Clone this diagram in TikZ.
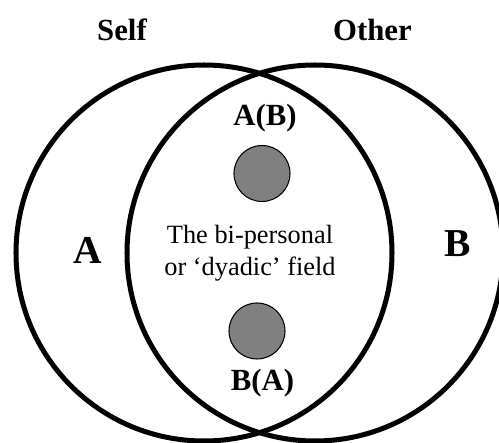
\documentclass[tikz,border=0pt]{standalone}
\usepackage{fontspec}
\setmainfont{Liberation Serif}
\usetikzlibrary{positioning}

\begin{document}
\begin{tikzpicture}[
  ring/.style={draw=black,line width=2.85pt,circle,minimum size=7.52cm,inner sep=0pt},
  dot/.style={draw=black,line width=0.6pt,circle,fill=black!50,minimum size=1.12cm,inner sep=0pt},
  head/.style={font=\fontsize{17.5}{21}\selectfont\bfseries,inner sep=0pt},
  side/.style={font=\fontsize{22.5}{26}\selectfont\bfseries,inner sep=0pt},
  field/.style={font=\fontsize{15}{18}\selectfont,align=center,inner sep=0pt}]
\useasboundingbox (0,0) rectangle (9.98,8.86);
\node[ring] (selfring) at (4.08,3.80) {};
\node[ring] (otherring) at (6.30,3.80) {};
\node[head] (self) at (2.44,8.26) {Self};
\node[head] (other) at (7.45,8.26) {Other};
\node[side] (a) at (1.75,3.86) {A};
\node[side] (b) at (9.15,3.99) {B};
\node[dot] (dotab) at (5.24,5.39) {};
\node[dot] (dotba) at (5.14,2.24) {};
\node[head] (ab) at (5.30,6.49) {A(B)};
\node[head] (ba) at (5.25,1.19) {B(A)};
\node[field] (dyad) at (5.00,3.80) {The bi-personal\\or `dyadic' field};
\end{tikzpicture}
\end{document}
